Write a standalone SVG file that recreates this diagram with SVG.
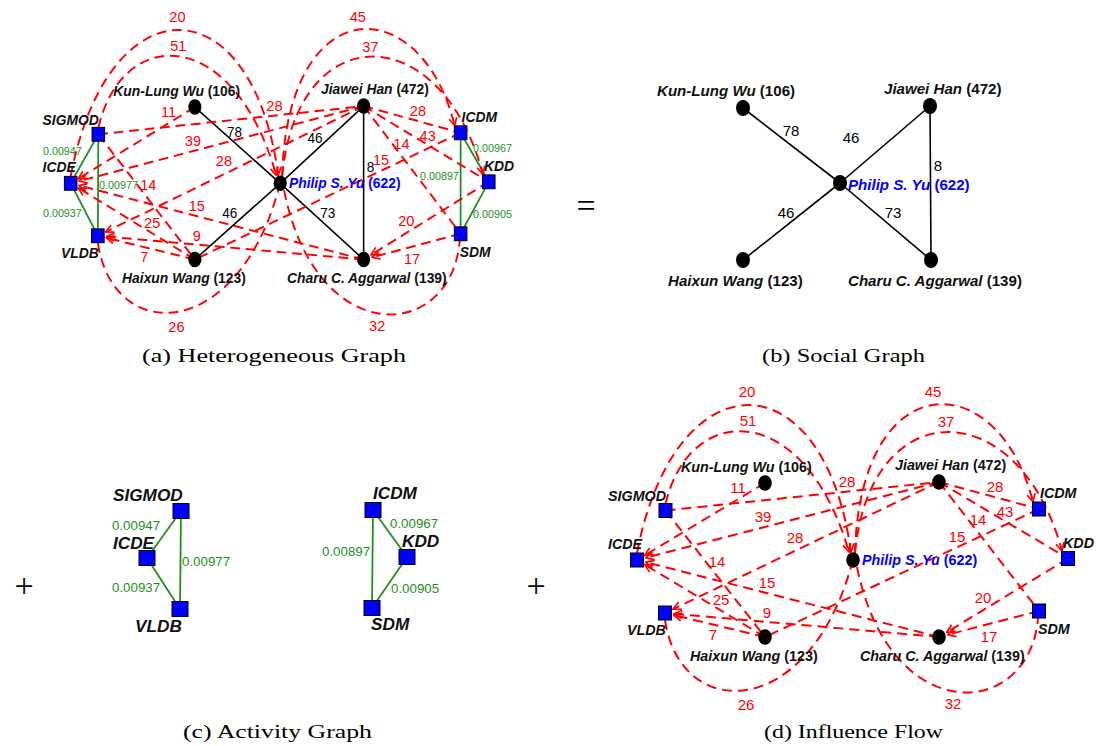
<svg xmlns="http://www.w3.org/2000/svg" width="1097" height="746" viewBox="0 0 1097 746">
<style>
.rd{fill:none;stroke:#f00;stroke-width:2;stroke-dasharray:10 6}
.bk{stroke:#000;stroke-width:1.6}
.gr{stroke:#1f8f1f;stroke-width:1.8}
.conf{fill:#00f;stroke:#000;stroke-width:1}
.au{fill:#000}
.nl{font-family:"Liberation Sans",Arial,sans-serif;font-weight:bold;font-style:italic;font-size:14.3px;fill:#111}
.up{font-style:normal}
.pb{fill:#0000ff}
.rl{font-family:"Liberation Sans",Arial,sans-serif;font-size:15px;fill:#f00;text-anchor:middle}
.gl{font-family:"Liberation Sans",Arial,sans-serif;font-size:11.1px;fill:#1f8f1f}
.bl{font-family:"Liberation Sans",Arial,sans-serif;font-size:14px;fill:#000;text-anchor:middle}
.cap{font-family:"Liberation Serif","DejaVu Serif",serif;font-size:19px;fill:#000}
.op{font-family:"Liberation Serif","DejaVu Serif",serif;font-size:34px;fill:#000;text-anchor:middle}
</style>
<defs>
<marker id="ah" viewBox="0 0 10 10" refX="9" refY="5" markerWidth="10" markerHeight="10" markerUnits="userSpaceOnUse" orient="auto">
<path d="M1,1 L9,5 L1,9" fill="none" stroke="#f00" stroke-width="1.7"/>
</marker>
</defs>
<rect width="1097" height="746" fill="#fff"/>

<!-- ===== Panel (a) Heterogeneous Graph ===== -->
<g id="panel-a" transform="matrix(0.97 0 0 0.99 -547.2 -371.1)">
<g id="a-connectors">
<g id="a-social">
<line class="bk" x1="765" y1="483" x2="853" y2="560"/>
<line class="bk" x1="939" y1="482" x2="853" y2="560"/>
<line class="bk" x1="765" y1="637" x2="853" y2="560"/>
<line class="bk" x1="939" y1="637" x2="853" y2="560"/>
<line class="bk" x1="939" y1="482" x2="939" y2="637"/>
</g>
<g id="a-activity">
<line class="gr" x1="665.5" y1="510.5" x2="637" y2="560"/>
<line class="gr" x1="665.5" y1="510.5" x2="665" y2="613"/>
<line class="gr" x1="637" y1="560" x2="665" y2="613"/>
<line class="gr" x1="1039" y1="509" x2="1068" y2="558.5"/>
<line class="gr" x1="1039" y1="509" x2="1039" y2="611"/>
<line class="gr" x1="1068" y1="558.5" x2="1039" y2="611"/>
</g>
<g id="a-flow">
<path class="rd" marker-end="url(#ah)" d="M765,483 L644.7,555.4"/>
<path class="rd" marker-end="url(#ah)" d="M939,482 L645.7,557.8"/>
<path class="rd" marker-end="url(#ah)" d="M939,637 L645.7,562.2"/>
<path class="rd" marker-end="url(#ah)" d="M765,637 L644.7,564.6"/>
<path class="rd" d="M665.5,510.5 L939,482"/>
<path class="rd" marker-end="url(#ah)" d="M939,482 L673.1,609.1"/>
<path class="rd" marker-end="url(#ah)" d="M939,637 L674,613.8"/>
<path class="rd" marker-end="url(#ah)" d="M765,637 L673.8,615.1"/>
<path class="rd" d="M665.5,510.5 L765,637"/>
<path class="rd" d="M939,482 L1039,509"/>
<path class="rd" d="M939,482 L1068,558.5"/>
<path class="rd" d="M939,482 L1039,611"/>
<path class="rd" d="M1039,509 L765,637"/>
<path class="rd" marker-end="url(#ah)" d="M1068,558.5 L946.7,632.3"/>
<path class="rd" marker-end="url(#ah)" d="M1039,611 L947.7,634.7"/>
<path class="rd" marker-end="url(#ah)" d="M637,553 C675,356 824,356 851,552"/>
<path class="rd" marker-end="url(#ah)" d="M665.5,504 C690,400 805,400 849,552"/>
<path class="rd" d="M665,620 C680,722 807,722 851,567"/>
<path class="rd" marker-end="url(#ah)" d="M855,553 C860,364 998,364 1033,502"/>
<path class="rd" marker-end="url(#ah)" d="M855,553 C870,392 1019,392 1062,551"/>
<path class="rd" d="M857,567 C890,730 1030,720 1038,618"/>
</g>
<g id="a-labels">
<text class="rl" x="747" y="397">20</text>
<text class="rl" x="748" y="426">51</text>
<text class="rl" x="738" y="493">11</text>
<text class="rl" x="847" y="487">28</text>
<text class="rl" x="763" y="522">39</text>
<text class="rl" x="795" y="543">28</text>
<text class="rl" x="717" y="567">14</text>
<text class="rl" x="767" y="588">15</text>
<text class="rl" x="721" y="605">25</text>
<text class="rl" x="767" y="618">9</text>
<text class="rl" x="713" y="640">7</text>
<text class="rl" x="746" y="710">26</text>
<text class="rl" x="933" y="397">45</text>
<text class="rl" x="946" y="427">37</text>
<text class="rl" x="995" y="492">28</text>
<text class="rl" x="1005" y="517">43</text>
<text class="rl" x="978" y="525">14</text>
<text class="rl" x="957" y="542">15</text>
<text class="rl" x="983" y="603">20</text>
<text class="rl" x="989" y="642">17</text>
<text class="rl" x="953" y="709">32</text>
<text class="bl" x="806" y="513">78</text>
<text class="bl" x="889" y="519">46</text>
<text class="bl" x="946" y="549">8</text>
<text class="bl" x="801" y="595">46</text>
<text class="bl" x="902" y="595">73</text>
<text class="gl" x="608.4" y="531.4">0.00947</text>
<text class="gl" x="666.2" y="565.8">0.00977</text>
<text class="gl" x="608.4" y="594">0.00937</text>
<text class="gl" x="1051.8" y="528.4">0.00967</text>
<text class="gl" x="997.1" y="556.7">0.00897</text>
<text class="gl" x="1051.8" y="595">0.00905</text>
</g>
</g>
<g id="a-sigmod"><rect class="conf" x="659" y="503.5" width="13" height="14"/><text class="nl" x="608" y="501">SIGMOD</text></g>
<g id="a-icde"><rect class="conf" x="630.5" y="553" width="13" height="14"/><text class="nl" x="608" y="549">ICDE</text></g>
<g id="a-vldb"><rect class="conf" x="658.5" y="606" width="13" height="14"/><text class="nl" x="627" y="635">VLDB</text></g>
<g id="a-icdm"><rect class="conf" x="1032.5" y="502" width="13" height="14"/><text class="nl" x="1040" y="498">ICDM</text></g>
<g id="a-kdd"><rect class="conf" x="1061.5" y="551.5" width="13" height="14"/><text class="nl" x="1063" y="548">KDD</text></g>
<g id="a-sdm"><rect class="conf" x="1032.5" y="604" width="13" height="14"/><text class="nl" x="1038" y="634">SDM</text></g>
<g id="a-wu"><ellipse class="au" cx="765" cy="483" rx="6.8" ry="7.8"/><text class="nl" x="681" y="472">Kun-Lung Wu <tspan class="up">(106)</tspan></text></g>
<g id="a-han"><ellipse class="au" cx="939" cy="482" rx="6.8" ry="7.8"/><text class="nl" x="895" y="470">Jiawei Han <tspan class="up">(472)</tspan></text></g>
<g id="a-yu"><ellipse class="au" cx="853" cy="560" rx="6.8" ry="7.8"/><text class="nl pb" x="862" y="565">Philip S. Yu <tspan class="up">(622)</tspan></text></g>
<g id="a-wang"><ellipse class="au" cx="765" cy="637" rx="6.8" ry="7.8"/><text class="nl" x="690" y="661">Haixun Wang <tspan class="up">(123)</tspan></text></g>
<g id="a-aggarwal"><ellipse class="au" cx="939" cy="637" rx="6.8" ry="7.8"/><text class="nl" x="860" y="661">Charu C. Aggarwal <tspan class="up">(139)</tspan></text></g>
</g>
<text class="cap" x="142" y="362" textLength="264" lengthAdjust="spacingAndGlyphs">(a)  Heterogeneous Graph</text>

<text class="op" x="586" y="217">=</text>

<!-- ===== Panel (b) Social Graph ===== -->
<g id="b-connectors">
<line class="bk" x1="743" y1="108" x2="840" y2="183"/>
<line class="bk" x1="930" y1="106" x2="840" y2="183"/>
<line class="bk" x1="743" y1="260" x2="840" y2="183"/>
<line class="bk" x1="931" y1="260" x2="840" y2="183"/>
<line class="bk" x1="930" y1="106" x2="931" y2="260"/>
<text class="bl" x="791" y="136" style="font-size:15px">78</text>
<text class="bl" x="851" y="143" style="font-size:15px">46</text>
<text class="bl" x="938" y="171" style="font-size:15px">8</text>
<text class="bl" x="786" y="218" style="font-size:15px">46</text>
<text class="bl" x="893" y="218" style="font-size:15px">73</text>
</g>
<g id="b-wu"><ellipse class="au" cx="743" cy="108" rx="7" ry="8"/><text class="nl" x="657" y="96" style="font-size:15.1px">Kun-Lung Wu <tspan class="up">(106)</tspan></text></g>
<g id="b-han"><ellipse class="au" cx="930" cy="106" rx="7" ry="8"/><text class="nl" x="884" y="94" style="font-size:15.1px">Jiawei Han <tspan class="up">(472)</tspan></text></g>
<g id="b-yu"><ellipse class="au" cx="840" cy="183" rx="7" ry="8"/><text class="nl pb" x="848" y="190" style="font-size:15.1px">Philip S. Yu <tspan class="up">(622)</tspan></text></g>
<g id="b-wang"><ellipse class="au" cx="743" cy="260" rx="7" ry="8"/><text class="nl" x="668" y="286" style="font-size:15.1px">Haixun Wang <tspan class="up">(123)</tspan></text></g>
<g id="b-aggarwal"><ellipse class="au" cx="931" cy="260" rx="7" ry="8"/><text class="nl" x="848" y="286" style="font-size:15.1px">Charu C. Aggarwal <tspan class="up">(139)</tspan></text></g>
<text class="cap" x="762" y="362" textLength="163" lengthAdjust="spacingAndGlyphs">(b)  Social Graph</text>

<!-- ===== Panel (c) Activity Graph ===== -->
<text class="op" x="24" y="597">+</text>
<g id="c-connectors">
<line class="gr" x1="181" y1="511" x2="147" y2="558"/>
<line class="gr" x1="181" y1="511" x2="180" y2="609"/>
<line class="gr" x1="147" y1="558" x2="180" y2="609"/>
<line class="gr" x1="373" y1="510" x2="407" y2="557"/>
<line class="gr" x1="373" y1="510" x2="372" y2="608"/>
<line class="gr" x1="407" y1="557" x2="372" y2="608"/>
<text class="gl" x="112" y="530" style="font-size:13.3px">0.00947</text>
<text class="gl" x="182" y="566" style="font-size:13.3px">0.00977</text>
<text class="gl" x="112" y="592" style="font-size:13.3px">0.00937</text>
<text class="gl" x="390" y="528" style="font-size:13.3px">0.00967</text>
<text class="gl" x="322" y="556" style="font-size:13.3px">0.00897</text>
<text class="gl" x="391" y="593" style="font-size:13.3px">0.00905</text>
</g>
<g id="c-sigmod"><rect class="conf" x="173" y="503.5" width="16" height="15"/><text class="nl" x="113" y="500.7" style="font-size:17.2px">SIGMOD</text></g>
<g id="c-icde"><rect class="conf" x="139" y="550.5" width="16" height="15"/><text class="nl" x="113" y="549" style="font-size:17.2px">ICDE</text></g>
<g id="c-vldb"><rect class="conf" x="172" y="601.5" width="16" height="15"/><text class="nl" x="135" y="632" style="font-size:17.2px">VLDB</text></g>
<g id="c-icdm"><rect class="conf" x="365" y="502.5" width="16" height="15"/><text class="nl" x="373" y="499" style="font-size:17.2px">ICDM</text></g>
<g id="c-kdd"><rect class="conf" x="399" y="549.5" width="16" height="15"/><text class="nl" x="402" y="547" style="font-size:17.2px">KDD</text></g>
<g id="c-sdm"><rect class="conf" x="364" y="600.5" width="16" height="15"/><text class="nl" x="371" y="630" style="font-size:17.2px">SDM</text></g>
<text class="cap" x="183" y="738" textLength="189" lengthAdjust="spacingAndGlyphs">(c)  Activity Graph</text>

<text class="op" x="536" y="597">+</text>

<!-- ===== Panel (d) Influence Flow ===== -->
<g id="d-connectors">
<path class="rd" marker-end="url(#ah)" d="M765,483 L644.7,555.4"/>
<path class="rd" marker-end="url(#ah)" d="M939,482 L645.7,557.8"/>
<path class="rd" marker-end="url(#ah)" d="M939,637 L645.7,562.2"/>
<path class="rd" marker-end="url(#ah)" d="M765,637 L644.7,564.6"/>
<path class="rd" d="M665.5,510.5 L939,482"/>
<path class="rd" marker-end="url(#ah)" d="M939,482 L673.1,609.1"/>
<path class="rd" marker-end="url(#ah)" d="M939,637 L674,613.8"/>
<path class="rd" marker-end="url(#ah)" d="M765,637 L673.8,615.1"/>
<path class="rd" d="M665.5,510.5 L765,637"/>
<path class="rd" d="M939,482 L1039,509"/>
<path class="rd" d="M939,482 L1068,558.5"/>
<path class="rd" d="M939,482 L1039,611"/>
<path class="rd" d="M1039,509 L765,637"/>
<path class="rd" marker-end="url(#ah)" d="M1068,558.5 L946.7,632.3"/>
<path class="rd" marker-end="url(#ah)" d="M1039,611 L947.7,634.7"/>
<path class="rd" marker-end="url(#ah)" d="M637,553 C675,356 824,356 851,552"/>
<path class="rd" marker-end="url(#ah)" d="M665.5,504 C690,400 805,400 849,552"/>
<path class="rd" d="M665,620 C680,722 807,722 851,567"/>
<path class="rd" marker-end="url(#ah)" d="M855,553 C860,364 998,364 1033,502"/>
<path class="rd" marker-end="url(#ah)" d="M855,553 C870,392 1019,392 1062,551"/>
<path class="rd" d="M857,567 C890,730 1030,720 1038,618"/>
<text class="rl" x="747" y="397">20</text>
<text class="rl" x="748" y="426">51</text>
<text class="rl" x="738" y="493">11</text>
<text class="rl" x="847" y="487">28</text>
<text class="rl" x="763" y="522">39</text>
<text class="rl" x="795" y="543">28</text>
<text class="rl" x="717" y="567">14</text>
<text class="rl" x="767" y="588">15</text>
<text class="rl" x="721" y="605">25</text>
<text class="rl" x="767" y="618">9</text>
<text class="rl" x="713" y="640">7</text>
<text class="rl" x="746" y="710">26</text>
<text class="rl" x="933" y="397">45</text>
<text class="rl" x="946" y="427">37</text>
<text class="rl" x="995" y="492">28</text>
<text class="rl" x="1005" y="517">43</text>
<text class="rl" x="978" y="525">14</text>
<text class="rl" x="957" y="542">15</text>
<text class="rl" x="983" y="603">20</text>
<text class="rl" x="989" y="642">17</text>
<text class="rl" x="953" y="709">32</text>
</g>
<g id="d-sigmod"><rect class="conf" x="659" y="503.5" width="13" height="14"/><text class="nl" x="608" y="501">SIGMOD</text></g>
<g id="d-icde"><rect class="conf" x="630.5" y="553" width="13" height="14"/><text class="nl" x="608" y="549">ICDE</text></g>
<g id="d-vldb"><rect class="conf" x="658.5" y="606" width="13" height="14"/><text class="nl" x="627" y="635">VLDB</text></g>
<g id="d-icdm"><rect class="conf" x="1032.5" y="502" width="13" height="14"/><text class="nl" x="1040" y="498">ICDM</text></g>
<g id="d-kdd"><rect class="conf" x="1061.5" y="551.5" width="13" height="14"/><text class="nl" x="1063" y="548">KDD</text></g>
<g id="d-sdm"><rect class="conf" x="1032.5" y="604" width="13" height="14"/><text class="nl" x="1038" y="634">SDM</text></g>
<g id="d-wu"><ellipse class="au" cx="765" cy="483" rx="6.8" ry="7.8"/><text class="nl" x="681" y="472">Kun-Lung Wu <tspan class="up">(106)</tspan></text></g>
<g id="d-han"><ellipse class="au" cx="939" cy="482" rx="6.8" ry="7.8"/><text class="nl" x="895" y="470">Jiawei Han <tspan class="up">(472)</tspan></text></g>
<g id="d-yu"><ellipse class="au" cx="853" cy="560" rx="6.8" ry="7.8"/><text class="nl pb" x="862" y="565">Philip S. Yu <tspan class="up">(622)</tspan></text></g>
<g id="d-wang"><ellipse class="au" cx="765" cy="637" rx="6.8" ry="7.8"/><text class="nl" x="690" y="661">Haixun Wang <tspan class="up">(123)</tspan></text></g>
<g id="d-aggarwal"><ellipse class="au" cx="939" cy="637" rx="6.8" ry="7.8"/><text class="nl" x="860" y="661">Charu C. Aggarwal <tspan class="up">(139)</tspan></text></g>
<text class="cap" x="764" y="738" textLength="179" lengthAdjust="spacingAndGlyphs">(d)  Influence Flow</text>
</svg>
